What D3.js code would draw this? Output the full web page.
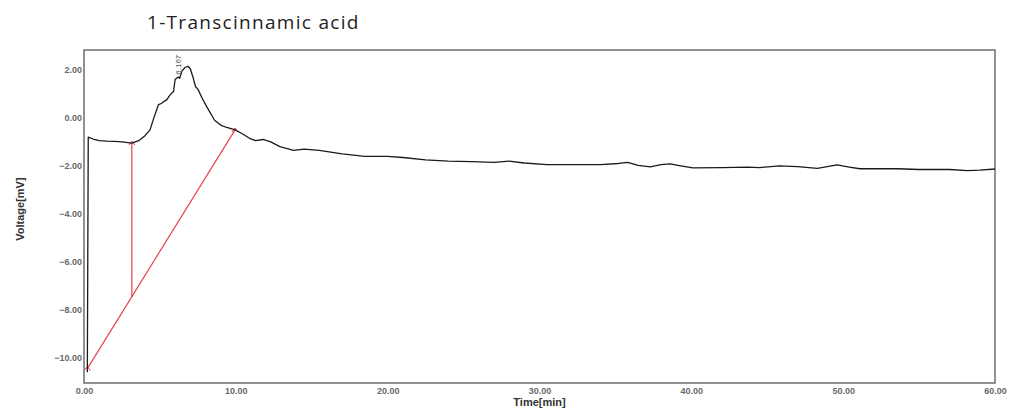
<!DOCTYPE html>
<html>
<head>
<meta charset="utf-8">
<script src="https://cdn.jsdelivr.net/npm/d3@7"></script>
<style>
  body { margin: 0; background: #fff; }
  svg { display: block; }
</style>
</head>
<body>
<div id="chart"></div>
<script>
// chromatogram trace
const times = [0.22, 0.28, 0.6, 1.0, 1.5, 2.0, 2.5, 3.15, 3.6, 4.0, 4.35, 4.6, 4.9, 5.1, 5.3, 5.45,
  5.6, 5.8, 5.9, 6.0, 6.2, 6.3, 6.45, 6.65, 6.85, 7.0, 7.2, 7.35, 7.5, 7.8, 8.1, 8.6, 9.0, 9.4,
  9.95, 10.4, 10.9, 11.3, 11.8, 12.3, 12.9, 13.8, 14.5, 15.5, 17, 18.5, 20, 21, 22.5, 24, 25.5,
  27, 28, 29, 30.5, 32, 34, 35.2, 35.8, 36.5, 37.3, 38.0, 38.6, 39.3, 40.1, 42, 43.7, 44.5,
  45.8, 47, 48.3, 49.6, 50.4, 51.1, 53.6, 55, 57, 58.2, 59, 60];
const voltages = [-10.6, -0.8, -0.88, -0.95, -0.97, -0.98, -1.0, -1.05, -0.95, -0.75, -0.5, 0.0,
  0.55, 0.6, 0.7, 0.75, 0.9, 1.05, 1.1, 1.6, 1.7, 1.65, 1.95, 2.1, 2.15, 2.05, 1.65, 1.3, 1.2,
  0.8, 0.45, -0.1, -0.3, -0.4, -0.5, -0.65, -0.85, -0.95, -0.9, -1.0, -1.2, -1.35, -1.3, -1.35,
  -1.5, -1.6, -1.6, -1.65, -1.75, -1.8, -1.82, -1.85, -1.8, -1.88, -1.95, -1.95, -1.95, -1.9,
  -1.85, -1.98, -2.04, -1.95, -1.92, -2.0, -2.08, -2.07, -2.05, -2.07, -2.0, -2.03, -2.1, -1.96,
  -2.05, -2.12, -2.12, -2.15, -2.15, -2.2, -2.18, -2.13];

// integration baseline and peak split line
const baseTimes = [0.22, 9.95];
const baseVolts = [-10.45, -0.5];
const dropTime = 3.15;
const dropVolts = [-1.05, -7.45];

const xTicks = [0, 10, 20, 30, 40, 50, 60];
const yTicks = [2, 0, -2, -4, -6, -8, -10];
const peakLabel = "6.167";
const peakTime = 6.167;

const width = 1012, height = 412;
const margin = { top: 50, right: 17, bottom: 29, left: 84 };

const svg = d3.select("#chart").append("svg")
  .attr("width", width)
  .attr("height", height);

const x = d3.scaleLinear().domain([0, 60]).range([margin.left, width - margin.right]);
const y = d3.scaleLinear().domain([-11.05, 2.83]).range([height - margin.bottom, margin.top]);

// title
svg.append("text")
  .attr("x", 147)
  .attr("y", 29)
  .style("font-family", "'Open Sans', sans-serif")
  .style("font-size", "19px")
  .style("letter-spacing", "1.3px")
  .style("fill", "#222")
  .text("1-Transcinnamic acid");

// frame
svg.append("rect")
  .attr("x", margin.left)
  .attr("y", margin.top)
  .attr("width", width - margin.left - margin.right)
  .attr("height", height - margin.top - margin.bottom)
  .attr("fill", "none")
  .attr("stroke", "#6e6e6e")
  .attr("stroke-width", 1.5);

// axes (labels only, the frame is the axis line)
const xAxis = svg.append("g")
  .attr("transform", `translate(0,${height - margin.bottom})`)
  .call(d3.axisBottom(x).tickValues(xTicks).tickSize(0).tickPadding(5).tickFormat(d3.format(".2f")));
const yAxis = svg.append("g")
  .attr("transform", `translate(${margin.left},0)`)
  .call(d3.axisLeft(y).tickValues(yTicks).tickSize(0).tickPadding(2).tickFormat(d3.format(".2f")));

[xAxis, yAxis].forEach((g) => {
  g.select(".domain").remove();
  g.selectAll("text")
    .style("font-family", "'Liberation Sans', Arial, sans-serif")
    .style("font-size", "9px")
    .style("font-weight", "bold")
    .style("fill", "#6a6a6a");
});

// axis titles
svg.append("text")
  .attr("x", x(30))
  .attr("y", 406)
  .attr("text-anchor", "middle")
  .style("font-family", "'Liberation Sans', Arial, sans-serif")
  .style("font-size", "11px")
  .style("font-weight", "bold")
  .style("fill", "#333")
  .text("Time[min]");

svg.append("text")
  .attr("transform", `translate(24,${y(-3.8)}) rotate(-90)`)
  .attr("text-anchor", "middle")
  .style("font-family", "'Liberation Sans', Arial, sans-serif")
  .style("font-size", "11px")
  .style("font-weight", "bold")
  .style("fill", "#333")
  .text("Voltage[mV]");

// baseline + drop line
const red = "#e8404c";
const line = d3.line().x((d) => x(d[0])).y((d) => y(d[1]));

svg.append("path")
  .datum(baseTimes.map((t, i) => [t, baseVolts[i]]))
  .attr("d", line)
  .attr("fill", "none")
  .attr("stroke", red)
  .attr("stroke-width", 1.2);

svg.append("path")
  .datum(dropVolts.map((v) => [dropTime, v]))
  .attr("d", line)
  .attr("fill", "none")
  .attr("stroke", red)
  .attr("stroke-width", 1.2);

// small carets on the integration points
const marks = [[baseTimes[0], baseVolts[0]], [baseTimes[1], baseVolts[1]], [dropTime, dropVolts[0]]];
svg.selectAll(".mark")
  .data(marks)
  .enter()
  .append("path")
  .attr("class", "mark")
  .attr("d", (d) => `M${x(d[0]) - 3},${y(d[1]) + 2}L${x(d[0])},${y(d[1]) - 2}L${x(d[0]) + 3},${y(d[1]) + 2}`)
  .attr("fill", "none")
  .attr("stroke", red)
  .attr("stroke-width", 1);

// signal trace
svg.append("path")
  .datum(times.map((t, i) => [t, voltages[i]]))
  .attr("d", line)
  .attr("fill", "none")
  .attr("stroke", "#1a1a1a")
  .attr("stroke-width", 1.3)
  .attr("stroke-linejoin", "round");

// peak retention label
svg.append("text")
  .attr("transform", `translate(${x(peakTime) + 3},${y(1.8)}) rotate(-90)`)
  .style("font-family", "'Liberation Sans', Arial, sans-serif")
  .style("font-size", "8px")
  .style("fill", "#555")
  .text(peakLabel);
</script>
</body>
</html>
